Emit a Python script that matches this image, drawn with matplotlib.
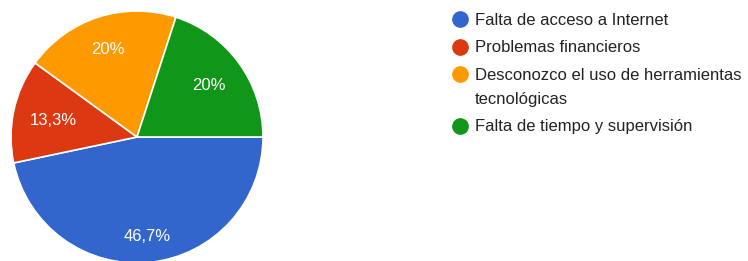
import numpy as np
import matplotlib.pyplot as plt
from matplotlib.lines import Line2D
from matplotlib.transforms import Affine2D

# -------------------------- data --------------------------
categories = ["Falta de acceso a Internet",
              "Problemas financieros",
              "Desconozco el uso de herramientas\ntecnológicas",
              "Falta de tiempo y supervisión"]
values = [46.7, 13.3, 20.0, 20.0]
pct_labels = ["46,7%", "13,3%", "20%", "20%"]
colors = ["#3366cc", "#dc3912", "#ff9900", "#109618"]

plt.rcParams['font.family'] = ['Liberation Sans', 'DejaVu Sans']

W, H = 748, 261
fig = plt.figure(figsize=(W / 100, H / 100), dpi=100)
# pixel coordinates, origin at top-left
px = Affine2D().scale(1 / W, -1 / H).translate(0, 1) + fig.transFigure

# -------------------------- pie --------------------------
cx, cy, r = 137, 124, 126
ax = fig.add_axes([(cx - r) / W, (cy - r) / H, 2 * r / W, 2 * r / H])
wedges, _ = ax.pie(values, colors=colors, startangle=0, counterclock=False, radius=1,
                   wedgeprops=dict(edgecolor='white', linewidth=1.2))

# label distance from centre per slice
label_dist = [0.78, 0.68, 0.745, 0.71]
for w, lab, d in zip(wedges, pct_labels, label_dist):
    mid = np.deg2rad((w.theta1 + w.theta2) / 2)
    ax.text(d * np.cos(mid), d * np.sin(mid), lab, color='white', fontsize=12,
            ha='center', va='center_baseline')
ax.set_xlim(-1, 1)
ax.set_ylim(-1, 1)
ax.set_aspect('equal')
ax.axis('off')

# -------------------------- legend --------------------------
y = 19
for cat, col in zip(categories, colors):
    fig.add_artist(Line2D([460], [y], transform=px, marker='o', markersize=11,
                          color=col, linestyle='none'))
    for i, line in enumerate(cat.split('\n')):
        fig.text(475, y + 24 * i, line, transform=px, ha='left', va='center_baseline',
                 fontsize=12, color='#222222')
    y += 27.5 + 24 * cat.count('\n')

fig.savefig('out.png', dpi=100, facecolor='white')
